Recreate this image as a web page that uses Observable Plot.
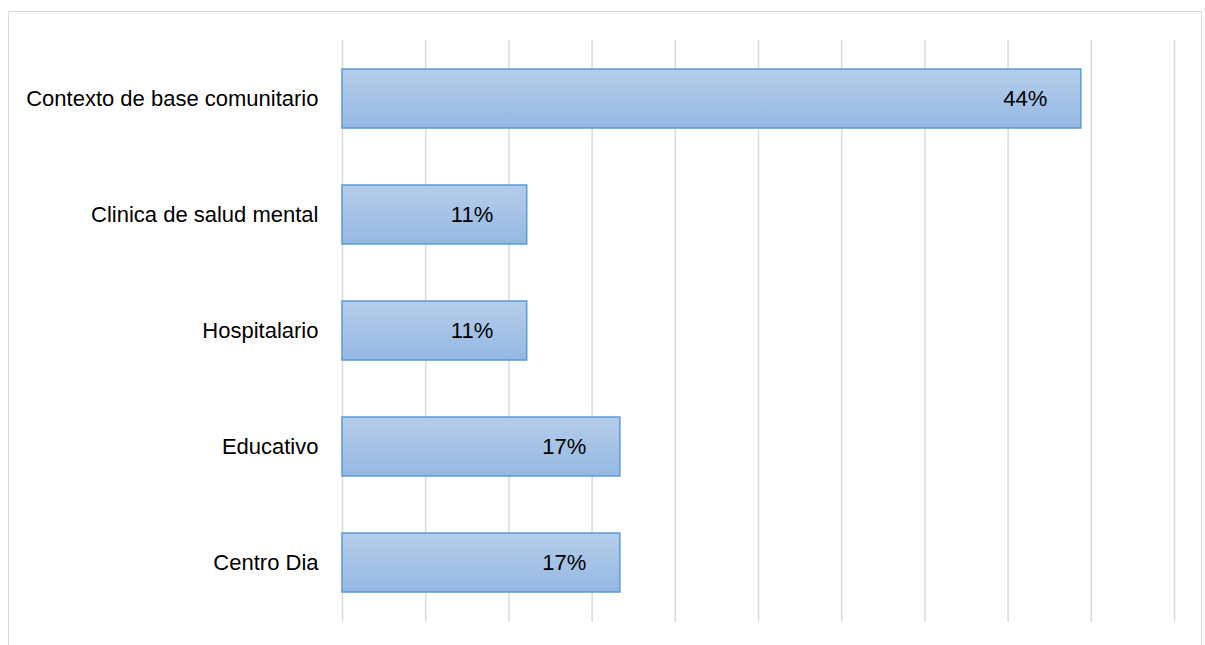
<!DOCTYPE html>
<html>
<head>
<meta charset="utf-8">
<script src="https://cdn.jsdelivr.net/npm/d3@7"></script>
<script src="https://cdn.jsdelivr.net/npm/@observablehq/plot@0.6"></script>
<style>
  html, body { margin: 0; padding: 0; background: #fff; overflow: hidden; }
  #wrap { position: relative; width: 1205px; height: 645px; }
  #frame { position: absolute; left: 8px; top: 11px; width: 1194px; height: 700px;
           border: 1.5px solid #d9d9d9; box-sizing: border-box; }
  #chart { position: absolute; left: 0; top: 0; }
</style>
</head>
<body>
<div id="wrap"><div id="frame"></div><div id="chart"></div></div>
<script>
const categories = ["Contexto de base comunitario", "Clinica de salud mental", "Hospitalario", "Educativo", "Centro Dia"];
const values = [44.4, 11.1, 11.1, 16.7, 16.7];
const xTicks = [0, 5, 10, 15, 20, 25, 30, 35, 40, 45, 50];

const data = categories.map((c, i) => ({category: c, value: values[i]}));

const defs = () => {
  const ns = "http://www.w3.org/2000/svg";
  const d = document.createElementNS(ns, "defs");
  d.innerHTML = `<linearGradient id="barGrad" x1="0" y1="0" x2="0" y2="1">
      <stop offset="0" stop-color="#b5cdea"/>
      <stop offset="1" stop-color="#95b8e3"/>
    </linearGradient>`;
  return d;
};

const chart = Plot.plot({
  width: 1205,
  height: 645,
  marginLeft: 342,
  marginRight: 31,
  marginTop: 40,
  marginBottom: 23,
  style: {fontFamily: "'Liberation Sans', Arial, sans-serif", background: "transparent"},
  x: {domain: [0, 50], axis: null},
  y: {domain: categories, paddingInner: 0.49, paddingOuter: 0.245, label: null},
  marks: [
    defs,
    Plot.ruleX(xTicks, {stroke: "#d9d9d9", strokeWidth: 1.5}),
    Plot.barX(data, {x: "value", y: "category", fill: "url(#barGrad)", stroke: "#5b9bd5", strokeWidth: 1.5}),
    Plot.text(data, {x: "value", y: "category", text: d => Math.round(d.value) + "%", textAnchor: "end", dx: -34, fontSize: 22, fill: "#000"}),
    Plot.axisY({tickSize: 0, tickPadding: 24, fontSize: 22, label: null, color: "#000"})
  ]
});
chart.querySelectorAll("text").forEach(t => t.setAttribute("fill", "#000"));
document.getElementById("chart").appendChild(chart);
</script>
</body>
</html>
